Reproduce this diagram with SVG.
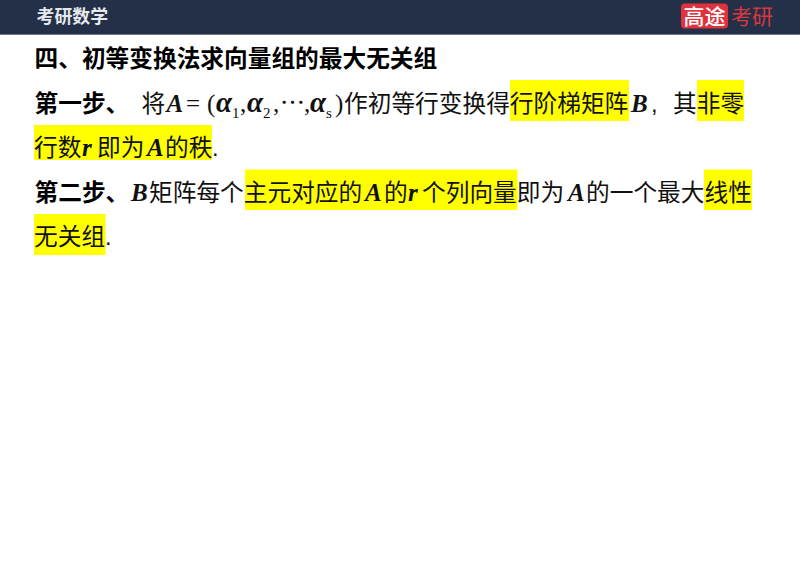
<svg xmlns="http://www.w3.org/2000/svg" width="800" height="566" viewBox="0 0 800 566">
<style>
.t{font-family:"Liberation Sans","Noto Sans CJK SC",sans-serif;font-size:23.7px;fill:#111}
.b{font-weight:700;fill:#000}
.m{font-family:"Liberation Serif","Noto Sans CJK SC",serif;font-size:25px;fill:#111}
.v{font-style:italic;font-weight:700}
.g{font-size:29px}
.s{font-size:15px;font-style:normal}
.hl{fill:#ffff00}
</style>
<rect width="800" height="566" fill="#fff"/>
<g id="header">
<rect width="800" height="34" fill="#242f48"/>
<rect y="34" width="800" height="1" fill="#6f7788"/>
<text x="36.500" y="23" font-family="'Noto Sans CJK SC',sans-serif" font-size="17.900" font-weight="700" fill="#e6e8ec">考研数学</text>
</g>
<g id="logo">
<rect x="681" y="3.500" width="47" height="25" rx="4" fill="#e0323c"/>
<text x="704.500" y="23.500" text-anchor="middle" font-family="'Noto Sans CJK SC',sans-serif" font-size="21" font-weight="500" fill="#fff">高途</text>
<text x="731" y="23.500" font-family="'Noto Sans CJK SC',sans-serif" font-size="21" fill="#d8383f">考研</text>
</g>
<g id="highlights">
<rect class="hl" x="510" y="80" width="119" height="41"/>
<rect class="hl" x="697" y="80" width="47" height="41"/>
<rect class="hl" x="34" y="125" width="178" height="35"/>
<rect class="hl" x="245" y="169.500" width="272.500" height="40.500"/>
<rect class="hl" x="704" y="169.500" width="48" height="40.500"/>
<rect class="hl" x="34" y="214" width="71.500" height="41"/>
</g>
<g id="title"><text class="t b" x="34.500" y="67">四、初等变换法求向量组的最大无关组</text></g>
<g id="step1">
<text class="t b" x="34.500" y="112">第一步、</text>
<text class="t" x="141.500" y="112">将</text>
<text class="m v" x="166.500" y="112">A</text>
<text class="m" x="186" y="112">=</text>
<text class="m" x="207" y="112">(</text>
<text class="m v g" x="216" y="112">α</text>
<text class="m s" x="232" y="118">1</text>
<text class="m" x="240" y="112">,</text>
<text class="m v g" x="247" y="112">α</text>
<text class="m s" x="263" y="118">2</text>
<text class="m" x="273" y="112">,</text>
<text class="m" x="280" y="112" font-size="22">⋯</text>
<text class="m" x="304" y="112">,</text>
<text class="m v g" x="310" y="112">α</text>
<text class="m s" x="326" y="118" font-style="italic">s</text>
<text class="m" x="335" y="112">)</text>
<text class="t" x="344" y="112">作初等行变换得行阶梯矩阵</text>
<text class="m v" x="631" y="112">B</text>
<text class="t" x="651" y="112">,</text>
<text class="t" x="673" y="112">其非零</text>
<text class="t" x="34" y="156">行数</text>
<text class="m v" x="82" y="156">r</text>
<text class="t" x="97" y="156">即为</text>
<text class="m v" x="147" y="156">A</text>
<text class="t" x="165" y="156">的秩</text>
<text class="t" x="212" y="156">.</text>
</g>
<g id="step2">
<text class="t b" x="34.500" y="201">第二步、</text>
<text class="m v" x="131" y="201">B</text>
<text class="t" x="149" y="201">矩阵每个主元对应的</text>
<text class="m v" x="365" y="201">A</text>
<text class="t" x="384" y="201">的</text>
<text class="m v" x="408" y="201">r</text>
<text class="t" x="422" y="201">个列向量即为</text>
<text class="m v" x="568" y="201">A</text>
<text class="t" x="586" y="201">的一个最大线性</text>
<text class="t" x="34" y="245">无关组</text>
<text class="t" x="105" y="245">.</text>
</g>
</svg>
